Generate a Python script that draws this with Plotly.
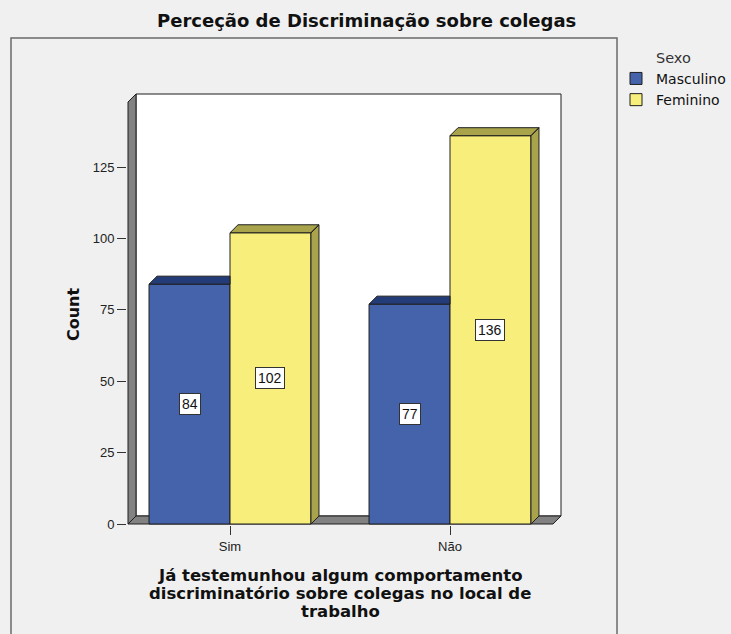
import plotly.graph_objects as go

# ---------------- data ----------------
categories = ["Sim", "Não"]
series_names = ["Masculino", "Feminino"]
masculino = [84, 77]
feminino = [102, 136]
y_ticks = [0, 25, 50, 75, 100, 125]

title_text = "Perceção de Discriminação sobre colegas"
x_title_lines = ["Já testemunhou algum comportamento",
                 "discriminatório sobre colegas no local de",
                 "trabalho"]
y_title = "Count"
legend_title = "Sexo"

# ---------------- style ----------------
BLUE, BLUE_DARK = "#4563AB", "#233B77"
YEL, YEL_DARK = "#F8EE7B", "#A9A44B"
GRAY = "#828282"
EDGE = "#1e1e1e"
BG = "#F0F0F0"
FONT = "Arial, Liberation Sans, sans-serif"
WIDE = "DejaVu Sans, Verdana, sans-serif"

W = 0.368             # bar width in category units
DX, DY = 0.0364, 2.8  # 3D depth offset (x in category units, y in counts)
XMIN, XMAX = -0.4636, 1.5045
YMAX = 150.6
PADX, PADY = 1 / 220, 1 / 2.856

W_FIG, H_FIG = 731, 634
ML, MR, MT, MB = 127, 169, 93, 109
PW, PH = W_FIG - ML - MR, H_FIG - MT - MB


def px(xp):
    return (xp - ML) / PW


def py(yp):
    return (H_FIG - MB - yp) / PH


xpos = list(range(len(categories)))
series = [(series_names[0], masculino, BLUE, BLUE_DARK, -W),
          (series_names[1], feminino, YEL, YEL_DARK, 0.0)]

fig = go.Figure()

# front faces of bars
for name, vals, col, dark, off in series:
    fig.add_trace(go.Bar(
        x=xpos, y=vals, width=W, offset=off, name=name,
        marker=dict(color=col, line=dict(color=EDGE, width=1)),
        hoverinfo="skip"))

# top and side faces (computed from the data values)
for si, (name, vals, col, dark, off) in enumerate(series):
    xs, ys = [], []
    for ci, h in enumerate(vals):
        x0 = xpos[ci] + off
        x1 = x0 + W
        neighbour = None
        if si + 1 < len(series):
            neighbour = series[si + 1][1][ci]
        hidden = neighbour is not None and neighbour >= h + DY
        xr = x1 if hidden else x1 + DX
        xs += [x0, x0 + DX, xr, x1, x0, None]
        ys += [h, h + DY, h + DY, h, h, None]
        if not hidden:
            xs += [x1, x1 + DX, x1 + DX, x1, x1, None]
            ys += [0, DY, h + DY, h, 0, None]
    fig.add_trace(go.Scatter(
        x=xs, y=ys, mode="lines", fill="toself", fillcolor=dark,
        line=dict(color=EDGE, width=1), showlegend=False, hoverinfo="skip"))

# value labels
for name, vals, col, dark, off in series:
    for ci, h in enumerate(vals):
        fig.add_annotation(
            x=xpos[ci] + off + W / 2, y=h / 2, text=str(h), showarrow=False,
            xanchor="center", yanchor="middle",
            font=dict(family=FONT, size=14, color="#111"),
            bgcolor="white", bordercolor="#333", borderwidth=1, borderpad=2)

shapes = []
shapes.append(dict(type="rect", xref="paper", yref="paper",
                   x0=px(11), x1=px(617), y0=py(38), y1=py(660),
                   fillcolor=BG, line=dict(color="#6a6a6a", width=1.5),
                   layer="below"))
shapes.append(dict(type="rect", xref="x", yref="y",
                   x0=XMIN + DX, x1=XMAX, y0=DY, y1=YMAX,
                   fillcolor="white", line=dict(color=EDGE, width=1),
                   layer="below"))
shapes.append(dict(type="path", xref="x", yref="y",
                   path=f"M{XMIN},0 L{XMIN},{YMAX - DY} L{XMIN + DX},{YMAX} L{XMIN + DX},{DY} Z",
                   fillcolor=GRAY, line=dict(color=EDGE, width=1), layer="below"))
shapes.append(dict(type="path", xref="x", yref="y",
                   path=f"M{XMIN},0 L{XMAX - DX},0 L{XMAX},{DY} L{XMIN + DX},{DY} Z",
                   fillcolor=GRAY, line=dict(color=EDGE, width=1), layer="below"))

fig.update_layout(
    width=W_FIG, height=H_FIG,
    margin=dict(l=ML, r=MR, t=MT, b=MB, autoexpand=False),
    paper_bgcolor=BG, plot_bgcolor="rgba(0,0,0,0)",
    barmode="overlay",
    shapes=shapes,
    font=dict(family=FONT, size=13, color="#222"),
    showlegend=True,
    legend=dict(
        title=dict(text=legend_title, side="top center",
                   font=dict(family=WIDE, size=14.5, color="#333")),
        xref="container", yref="container",
        x=616 / W_FIG, y=1 - 44 / H_FIG, xanchor="left", yanchor="top",
        bgcolor="rgba(0,0,0,0)", font=dict(family=WIDE, size=14, color="#111"),
        itemwidth=30, tracegroupgap=0),
    xaxis=dict(range=[XMIN - PADX, XMAX + PADX], tickvals=xpos, ticktext=categories,
               ticks="outside", ticklen=9, tickcolor="#333", showgrid=False,
               zeroline=False, showline=False, fixedrange=True,
               tickfont=dict(family=FONT, size=13, color="#222")),
    yaxis=dict(range=[-PADY, YMAX + PADY], tickvals=y_ticks,
               ticks="outside", ticklen=9, tickcolor="#333", showgrid=False,
               zeroline=False, showline=False, fixedrange=True,
               tickfont=dict(family=FONT, size=13, color="#222")),
)

# titles
fig.add_annotation(xref="paper", yref="paper", x=px(366), y=py(20),
                   xanchor="center", yanchor="middle",
                   text=f"<b>{title_text}</b>", showarrow=False,
                   font=dict(family=WIDE, size=18, color="#111"))
fig.add_annotation(xref="paper", yref="paper", x=px(73), y=py(314),
                   xanchor="center", yanchor="middle",
                   text=f"<b>{y_title}</b>", showarrow=False, textangle=-90,
                   font=dict(family=WIDE, size=16, color="#111"))
for line, yc in zip(x_title_lines, [575, 593, 611]):
    fig.add_annotation(xref="paper", yref="paper", x=px(340), y=py(yc),
                       xanchor="center", yanchor="middle",
                       text=f"<b>{line}</b>", showarrow=False,
                       font=dict(family=WIDE, size=16.5, color="#111"))

fig.write_html("out.html", config={"displayModeBar": False},
               post_script="document.body.style.margin='0';")
